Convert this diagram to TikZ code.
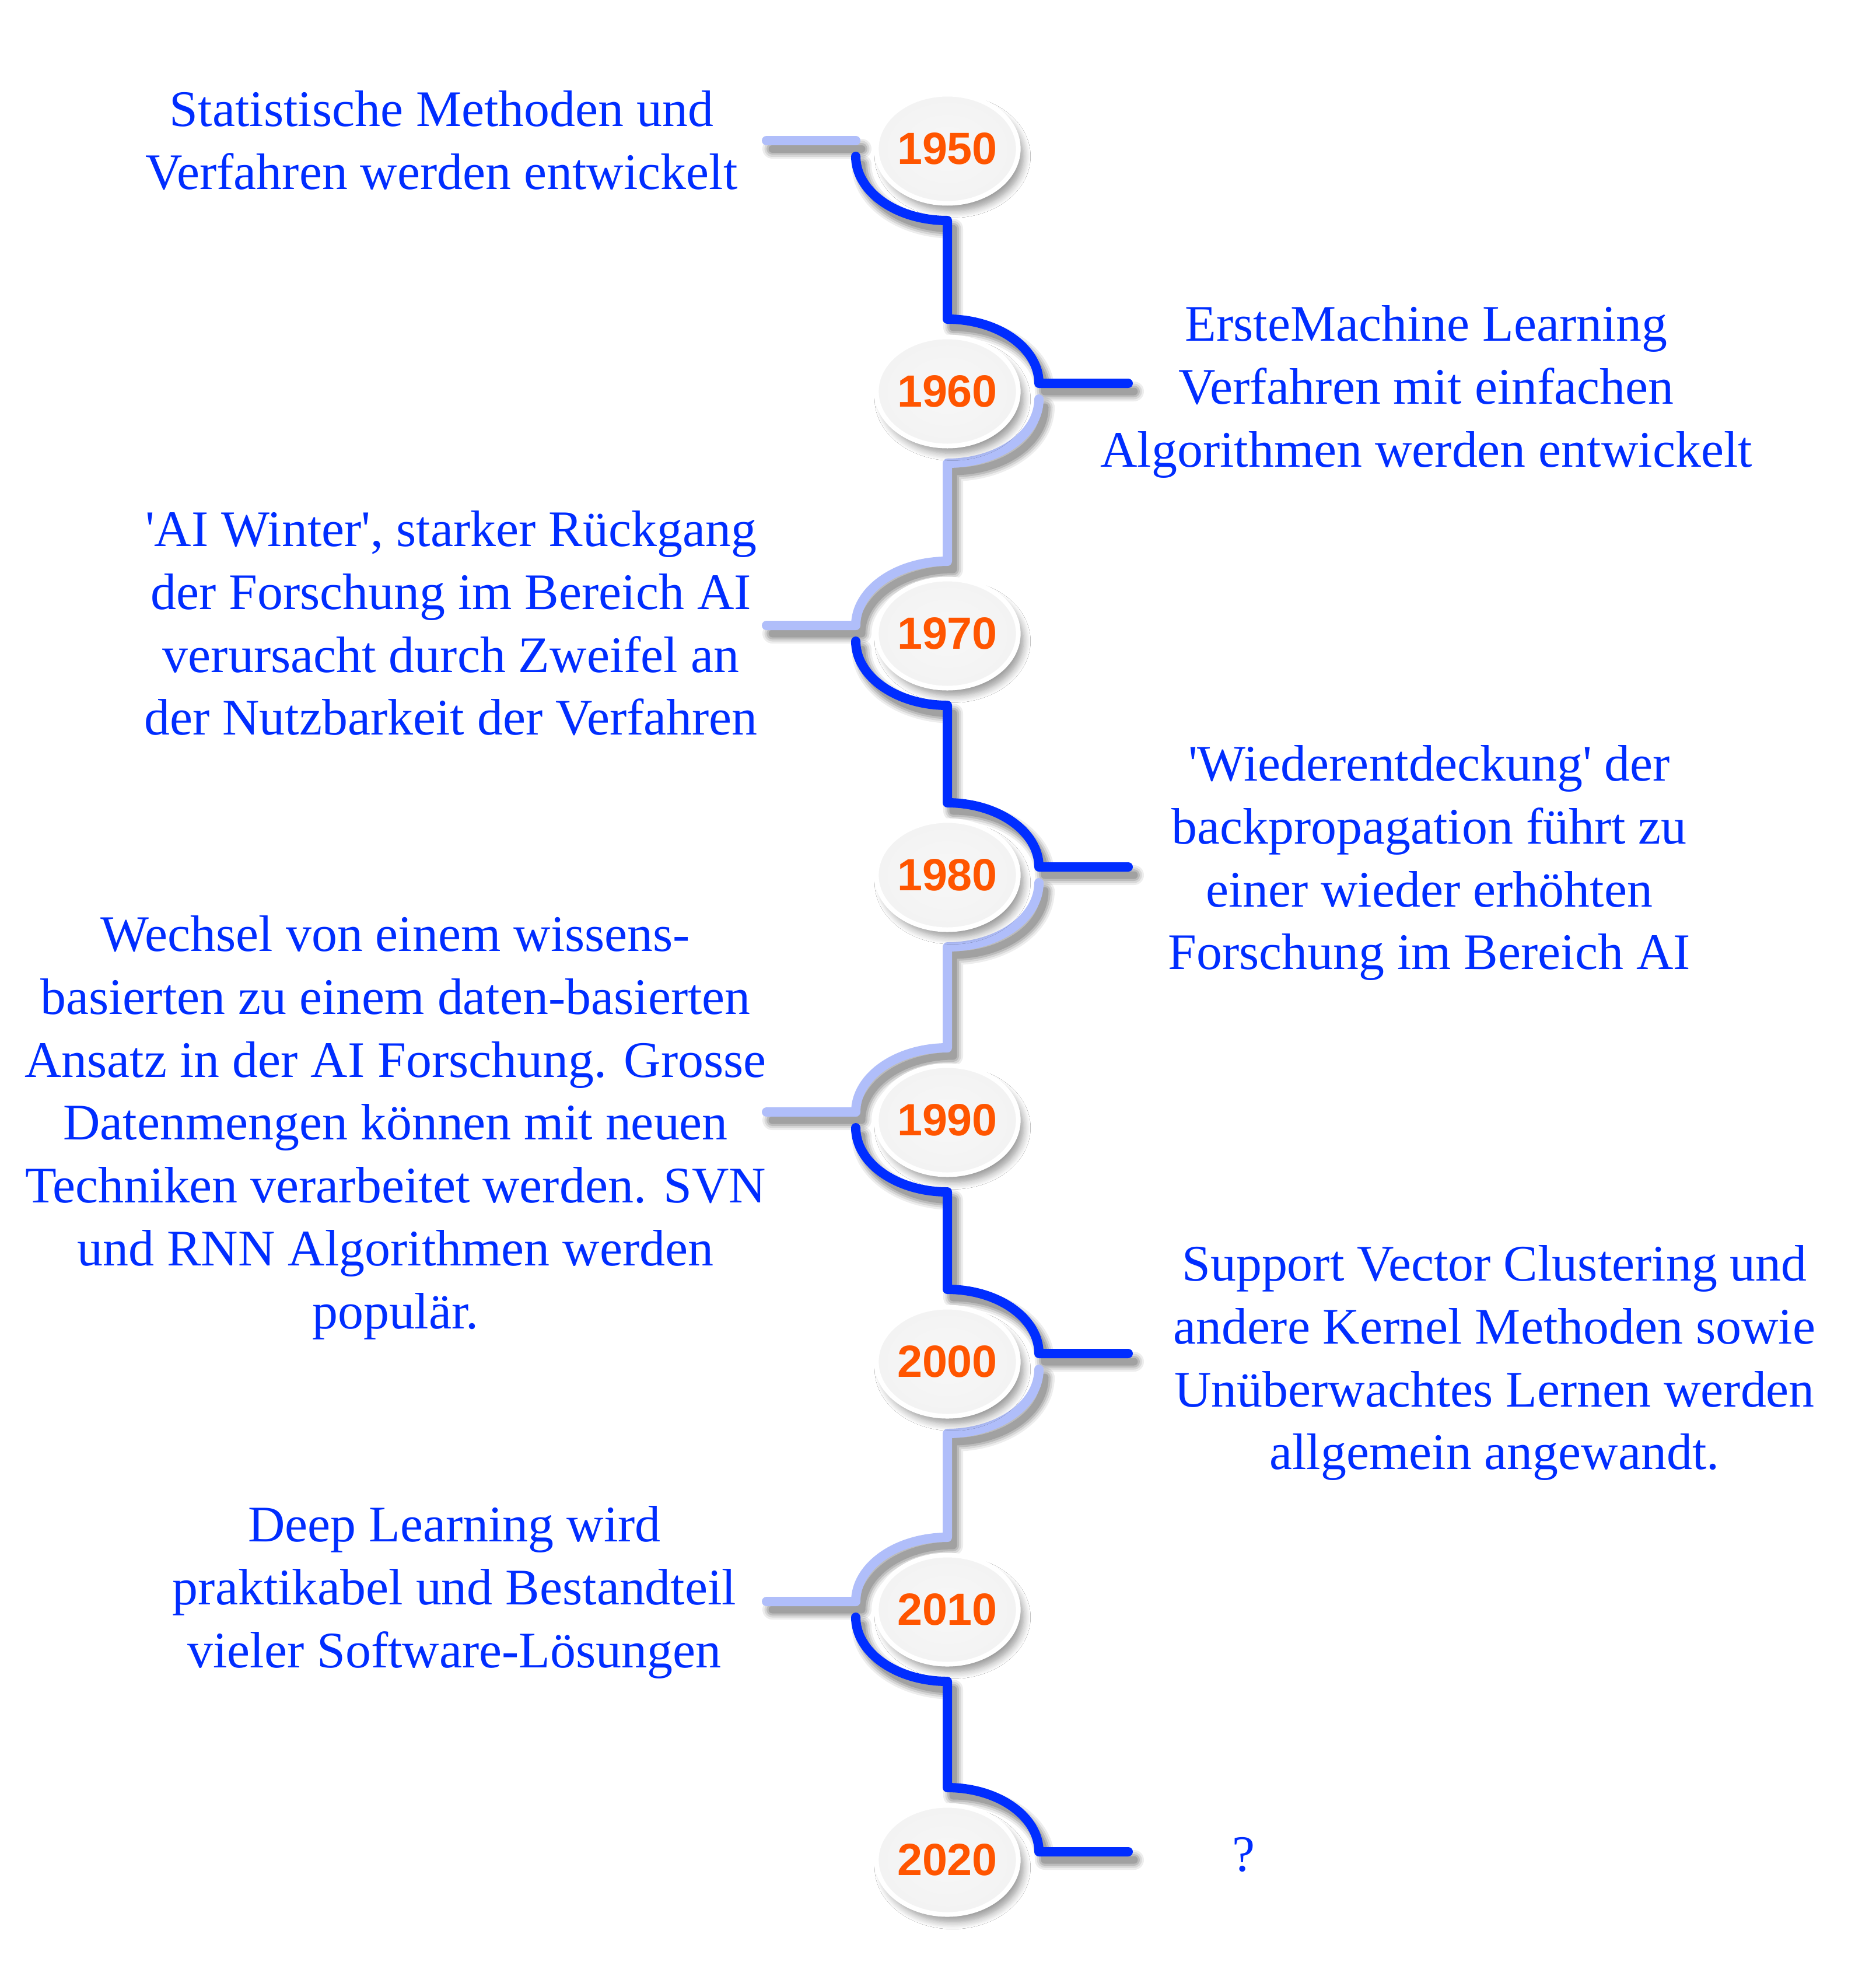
\documentclass[tikz,border=0pt]{standalone}
\usepackage{fontspec}
\setmainfont{Liberation Serif}
\newfontfamily\yearfont{Liberation Sans}
\usetikzlibrary{calc,shapes.geometric,shadows.blur,backgrounds}
\definecolor{tblue}{RGB}{0,45,255}
\definecolor{lblue}{RGB}{176,190,250}
\definecolor{orng}{RGB}{255,85,0}
\pgfdeclareradialshading{nodeshade}{\pgfpoint{0bp}{0bp}}{color(0bp)=(white!97!black); color(28bp)=(white!95!black); color(44bp)=(white!90!black); color(50bp)=(white!88!black)}
\tikzset{
  yearnode/.style={ellipse, minimum width=2.37cm, minimum height=1.87cm, inner sep=0pt,
    draw=white, line width=0.08cm, shade, shading=nodeshade,
    blur shadow={shadow xshift=0.09cm, shadow yshift=-0.13cm, shadow blur radius=0.12cm, shadow blur steps=10, shadow opacity=40},
    font=\yearfont\bfseries\fontsize{22}{26}\selectfont, text=orng},
  desc/.style={align=center, anchor=north, inner sep=0pt, text=tblue, font=\fontsize{25}{30.7}\selectfont},
  conn/.style={line width=0.16cm, line cap=round, line join=round},
  shdA/.style={line width=0.34cm, line cap=round, line join=round, draw=black, opacity=0.07},
  shdB/.style={line width=0.27cm, line cap=round, line join=round, draw=black, opacity=0.09},
  shdC/.style={line width=0.20cm, line cap=round, line join=round, draw=black, opacity=0.12},
  shdD/.style={line width=0.13cm, line cap=round, line join=round, draw=black, opacity=0.14},
}
\newcommand\tlpiece[1]{%
  \draw[#1] ($(\a)+(\xa,-0.13)$) arc[start angle=\sa, end angle=\ea, x radius=1.57cm, y radius=1.10cm]
    -- ($(\b)+(0,1.24)$) arc[start angle=90, end angle=\eb, x radius=1.57cm, y radius=1.10cm]
    -- ($(\b)+(\xe,0.14)$);}
\newcommand\firstline[1]{%
  \draw[#1] ($(y1950)+(-1.57,0.14)$) -- ($(y1950)+(-3.1,0.14)$);}
\begin{document}
\begin{tikzpicture}
\useasboundingbox (0,0) rectangle (32.16,-33.63);
% year nodes
\node[yearnode] (y1950) at (16.24,-2.55) {1950};
\node[yearnode] (y1960) at (16.24,-6.71) {1960};
\node[yearnode] (y1970) at (16.24,-10.86) {1970};
\node[yearnode] (y1980) at (16.24,-15.00) {1980};
\node[yearnode] (y1990) at (16.24,-19.20) {1990};
\node[yearnode] (y2000) at (16.24,-23.34) {2000};
\node[yearnode] (y2010) at (16.24,-27.59) {2010};
\node[yearnode] (y2020) at (16.24,-31.88) {2020};
% descriptions
\node[desc] (t1950) at (7.57,-1.40) {\strut Statistische Methoden und\\Verfahren werden entwickelt};
\node[desc] (t1960) at (24.45,-5.08) {\strut ErsteMachine Learning\\Verfahren mit einfachen\\Algorithmen werden entwickelt};
\node[desc] (t1970) at (7.73,-8.60) {\strut \textquotesingle AI Winter\textquotesingle, starker Rückgang\\der Forschung im Bereich AI\\verursacht durch Zweifel an\\der Nutzbarkeit der Verfahren};
\node[desc] (t1980) at (24.50,-12.62) {\strut \textquotesingle Wiederentdeckung\textquotesingle{} der\\backpropagation führt zu\\einer wieder erhöhten\\Forschung im Bereich AI};
\node[desc] (t1990) at (6.78,-15.54) {\strut Wechsel von einem wissens-\\basierten zu einem daten-basierten\\Ansatz in der AI Forschung. Grosse\\Datenmengen können mit neuen\\Techniken verarbeitet werden. SVN\\und RNN Algorithmen werden\\populär.};
\node[desc] (t2000) at (25.62,-21.19) {\strut Support Vector Clustering und\\andere Kernel Methoden sowie\\Unüberwachtes Lernen werden\\allgemein angewandt.};
\node[desc] (t2010) at (7.79,-25.66) {\strut Deep Learning wird\\praktikabel und Bestandteil\\vieler Software-Lösungen};
\node[desc] (t2020) at (21.32,-31.31) {\strut ?};
% connectors
\begin{pgfonlayer}{background}
\fill[white] (0,0) rectangle (32.16,-33.63);
\begin{scope}[transform canvas={xshift=0.10cm,yshift=-0.14cm}]
  \firstline{shdA}\firstline{shdB}\firstline{shdC}\firstline{shdD}
\end{scope}
\firstline{conn, draw=lblue}
\foreach \a/\b/\s/\t/\c in {y1950/y1960/-1/1/tblue, y1960/y1970/1/-1/lblue,
    y1970/y1980/-1/1/tblue, y1980/y1990/1/-1/lblue, y1990/y2000/-1/1/tblue,
    y2000/y2010/1/-1/lblue, y2010/y2020/-1/1/tblue}{
  \pgfmathsetmacro\sa{90-90*(\s)}
  \pgfmathsetmacro\ea{90-180*(\s)}
  \pgfmathsetmacro\eb{90-90*(\t)}
  \pgfmathsetmacro\xa{1.57*(\s)}
  \pgfmathsetmacro\xe{3.1*(\t)}
  \begin{scope}[transform canvas={xshift=0.10cm,yshift=-0.14cm}]
    \tlpiece{shdA}\tlpiece{shdB}\tlpiece{shdC}\tlpiece{shdD}
  \end{scope}
  \tlpiece{conn, draw=\c}
}
\end{pgfonlayer}
\end{tikzpicture}
\end{document}
